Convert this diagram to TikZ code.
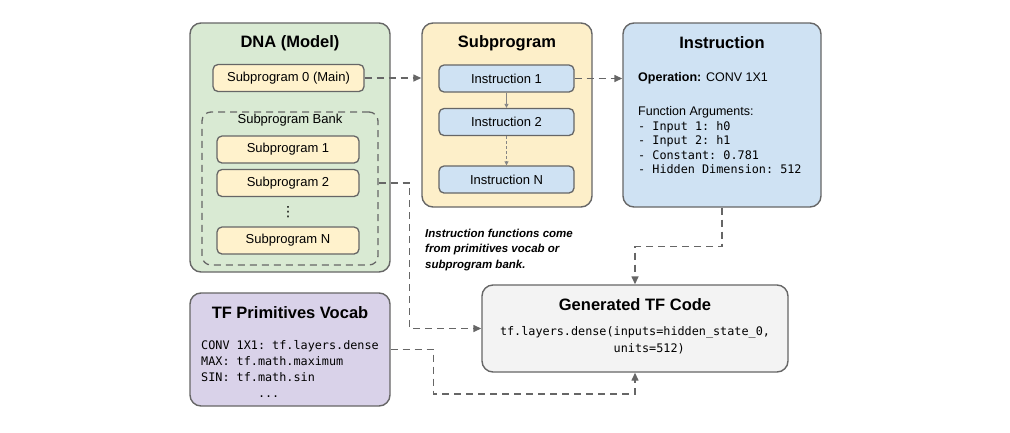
\documentclass[tikz,border=0pt]{standalone}
\usepackage{fontspec}
\setmainfont{Liberation Sans}
\setmonofont{DejaVu Sans Mono}
\newfontfamily\symfont{DejaVu Sans}
\usepackage{tikz}
\usetikzlibrary{arrows.meta, positioning, calc}
\definecolor{mGray}{HTML}{666666}
\definecolor{mGreen}{HTML}{D9EAD3}
\definecolor{mCream}{HTML}{FFF2CC}
\definecolor{mPeach}{HTML}{FDEFC9}
\definecolor{mBlue}{HTML}{CFE2F3}
\definecolor{mLight}{HTML}{F3F3F3}
\definecolor{mLilac}{HTML}{D9D2E9}
\tikzset{
  panel/.style={rectangle, rounded corners=11pt, draw=mGray, line width=1.4pt, inner sep=0pt},
  item/.style={rectangle, rounded corners=5pt, draw=mGray, line width=1.3pt,
              minimum height=27pt, inner sep=0pt, font=\fontsize{13}{15}\selectfont, align=center},
  ttl/.style={inner sep=0pt, font=\fontsize{16.5}{19}\selectfont\bfseries},
  code/.style={inner sep=0pt, align=left, font=\fontsize{11.8}{14.4}\selectfont\ttfamily},
  flow/.style={-{Triangle[length=8pt,width=7pt]}, dash pattern=on 7pt off 5pt, line width=1.4pt, draw=mGray},
}

\begin{document}
\begin{tikzpicture}[x=1pt, y=-1pt]
  \useasboundingbox (0,0) rectangle (1010,432);
  % DNA (Model)
  \node[panel, fill=mGreen, minimum width=200pt, minimum height=249pt] (dna) at (290,147.5) {};
  \node[ttl] (dnaT) at (290,43) {DNA (Model)};
  \node[item, fill=mCream, minimum width=151pt] (sub0) at (288.5,78) {Subprogram 0 (Main)};
  \node[panel, rounded corners=9pt, dash pattern=on 7pt off 5pt, line width=1.3pt,
        minimum width=176pt, minimum height=153pt] (bank) at (290,188.5) {};
  \node[inner sep=0pt, font=\fontsize{13}{15}\selectfont] (bankT) at (290,120) {Subprogram Bank};
  \node[item, fill=mCream, minimum width=142pt] (sub1) at (288,149.5) {Subprogram 1};
  \node[item, fill=mCream, minimum width=142pt] (sub2) at (288,183) {Subprogram 2};
  \node[inner sep=0pt, font=\fontsize{14}{16}\symfont] (dots) at (288,212) {⋮};
  \node[item, fill=mCream, minimum width=142pt] (subN) at (288,240.5) {Subprogram N};

  % Subprogram
  \node[panel, fill=mPeach, minimum width=170pt, minimum height=184pt] (subp) at (507,115) {};
  \node[ttl] (subpT) at (507,43) {Subprogram};
  \node[item, fill=mBlue, minimum width=135pt] (ins1) at (506.5,78.5) {Instruction 1};
  \node[item, fill=mBlue, minimum width=135pt] (ins2) at (506.5,122) {Instruction 2};
  \node[item, fill=mBlue, minimum width=135pt] (insN) at (506.5,179.5) {Instruction N};

  % Instruction
  \node[panel, fill=mBlue, minimum width=198pt, minimum height=184pt] (instr) at (722,115) {};
  \node[ttl] (instrT) at (722,43) {Instruction};
  \node[inner sep=0pt, anchor=west, font=\fontsize{12.5}{15}\selectfont] (op) at (638,78)
    {\textbf{Operation:} CONV 1X1};
  \node[inner sep=0pt, anchor=west, font=\fontsize{12.5}{15}\selectfont] (args) at (638,112)
    {Function Arguments:};
  \node[code, anchor=west] (argsC) at (638,147.5)
    {- Input 1: h0\\- Input 2: h1\\- Constant: 0.781\\- Hidden Dimension: 512};

  % note
  \node[inner sep=0pt, anchor=west, align=left, font=\fontsize{11.5}{15.5}\selectfont\bfseries\itshape]
    (note) at (425,250) {Instruction functions come\\from primitives vocab or\\subprogram bank.};

  % Generated TF Code
  \node[panel, fill=mLight, minimum width=306pt, minimum height=87pt] (gen) at (635,328.5) {};
  \node[ttl] (genT) at (635,305) {Generated TF Code};
  \node[code, font=\fontsize{11.8}{17}\selectfont\ttfamily] (genC) at (635,340.5)
    {tf.layers.dense(inputs=hidden\_state\_0,\\\phantom{tf.layers.dense(}units=512)};

  % TF Primitives Vocab
  \node[panel, fill=mLilac, minimum width=200pt, minimum height=113pt] (tf) at (290,349.5) {};
  \node[ttl] (tfT) at (290,313) {TF Primitives Vocab};
  \node[code, font=\fontsize{11.8}{16}\selectfont\ttfamily, anchor=west] (tfC) at (201,369)
    {CONV 1X1: tf.layers.dense\\MAX: tf.math.maximum\\SIN: tf.math.sin\\\phantom{CONV 1X1}...};

  % connectors
  \draw[flow] (sub0.east) -- (sub0.east -| subp.west);
  \draw[flow] (ins1.east) -- (ins1.east -| instr.west);
  \draw[-{Triangle[length=4pt,width=4pt]}, line width=0.8pt, draw=mGray!80] (ins1) -- (ins2);
  \draw[-{Triangle[length=4pt,width=4pt]}, line width=0.8pt, draw=mGray!80, dash pattern=on 3pt off 2pt] (ins2) -- (insN);
  \draw[flow] (bank.east |- sub2) -- ++(31,0) |- (gen.west);
  \draw[flow] (instr.south) -- ++(0,39) -| (gen.north);
  \draw[flow] (tf.east) -- ++(43,0) -- ++(0,44.5) -| (gen.south);
\end{tikzpicture}
\end{document}
